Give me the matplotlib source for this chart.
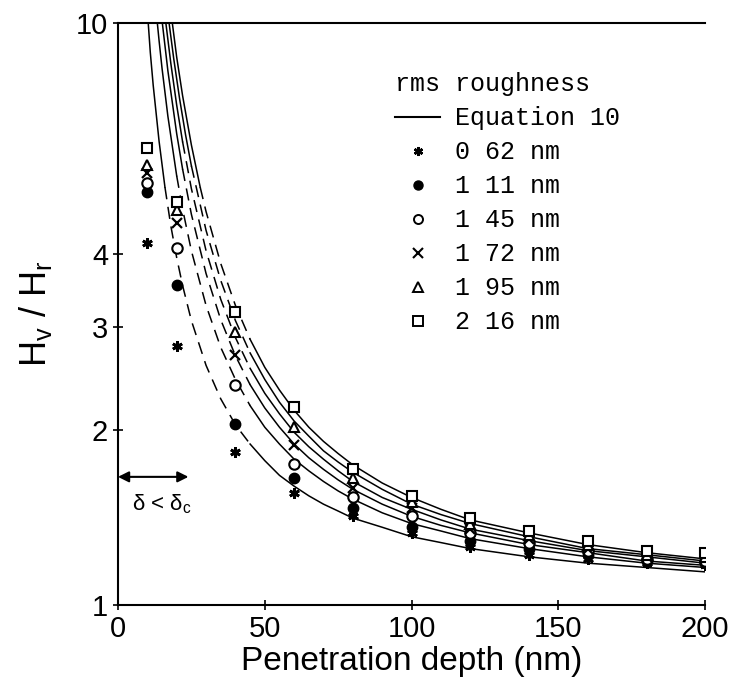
import matplotlib
matplotlib.use('Agg')
import matplotlib.pyplot as plt
from matplotlib.lines import Line2D
from matplotlib.ticker import NullLocator

# measured points (depth in nm, Hv/Hr)
depth = [10, 20, 40, 60, 80, 100, 120, 140, 160, 180, 200]
r062 = [4.19, 2.78, 1.83, 1.56, 1.42, 1.33, 1.26, 1.22, 1.20, 1.18, 1.17]
r111 = [5.12, 3.55, 2.05, 1.65, 1.47, 1.36, 1.29, 1.25, 1.22, 1.19, 1.18]
r145 = [5.31, 4.11, 2.39, 1.75, 1.53, 1.42, 1.33, 1.28, 1.24, 1.20, 1.19]
r172 = [5.52, 4.53, 2.69, 1.88, 1.59, 1.47, 1.35, 1.30, 1.25, 1.21, 1.20]
r195 = [5.70, 4.77, 2.94, 2.02, 1.65, 1.50, 1.38, 1.32, 1.27, 1.22, 1.21]
r216 = [6.10, 4.93, 3.19, 2.19, 1.71, 1.54, 1.41, 1.34, 1.29, 1.24, 1.23]

# Equation 10 curves
eq0_x = [10.3, 11, 12, 14, 16, 18, 20, 22, 25, 30, 35, 40, 45, 50, 55, 60, 65, 70, 75, 80,
         90, 100, 110, 120, 140, 160, 180, 200]
eq0_y = [10, 8.91, 7.81, 6.26, 5.22, 4.48, 3.95, 3.54, 3.08, 2.58, 2.26, 2.04, 1.89, 1.77,
         1.67, 1.60, 1.54, 1.49, 1.45, 1.41, 1.36, 1.31, 1.28, 1.25, 1.21, 1.18, 1.16, 1.14]
eq1_x = [13.4, 14, 15, 17, 20, 22, 25, 30, 35, 40, 45, 50, 55, 60, 65, 70, 75, 80,
         90, 100, 110, 120, 140, 160, 180, 200]
eq1_y = [10, 9.32, 8.36, 6.91, 5.46, 4.79, 4.06, 3.27, 2.77, 2.44, 2.20, 2.02, 1.89, 1.78,
         1.70, 1.63, 1.57, 1.52, 1.44, 1.38, 1.34, 1.30, 1.25, 1.21, 1.18, 1.16]
eq2_x = [15.1, 17, 20, 22, 25, 30, 35, 40, 45, 50, 55, 60, 65, 70, 75, 80,
         90, 100, 110, 120, 140, 160, 180, 200]
eq2_y = [10, 8.27, 6.45, 5.61, 4.69, 3.71, 3.09, 2.68, 2.39, 2.18, 2.02, 1.89, 1.79, 1.71,
         1.64, 1.58, 1.49, 1.42, 1.37, 1.33, 1.27, 1.23, 1.19, 1.17]
eq3_x = [16.3, 18, 20, 22, 25, 30, 35, 40, 45, 50, 55, 60, 65, 70, 75, 80,
         90, 100, 110, 120, 140, 160, 180, 200]
eq3_y = [10, 8.52, 7.22, 6.25, 5.19, 4.06, 3.35, 2.88, 2.55, 2.31, 2.13, 1.98, 1.87, 1.78,
         1.70, 1.63, 1.53, 1.46, 1.40, 1.35, 1.29, 1.24, 1.21, 1.18]
eq4_x = [17.4, 19, 21, 23, 25, 30, 35, 40, 45, 50, 55, 60, 65, 70, 75, 80,
         90, 100, 110, 120, 140, 160, 180, 200]
eq4_y = [10, 8.67, 7.40, 6.43, 5.68, 4.40, 3.61, 3.08, 2.71, 2.44, 2.23, 2.07, 1.95, 1.84,
         1.76, 1.69, 1.58, 1.49, 1.43, 1.38, 1.31, 1.25, 1.22, 1.19]
eq5_x = [18.5, 20, 22, 25, 28, 30, 35, 40, 45, 50, 55, 60, 65, 70, 75, 80,
         90, 100, 110, 120, 140, 160, 180, 200]
eq5_y = [10, 8.73, 7.50, 6.17, 5.22, 4.74, 3.86, 3.27, 2.86, 2.56, 2.34, 2.16, 2.02, 1.91,
         1.82, 1.74, 1.62, 1.53, 1.46, 1.40, 1.33, 1.27, 1.23, 1.20]

labels = ['0 62 nm', '1 11 nm', '1 45 nm', '1 72 nm', '1 95 nm', '2 16 nm']


def draw_curve(ax, xs, ys):
    # solid at the top, dashed in the middle, solid again past ~45 nm
    i1 = max(i for i in range(len(ys)) if ys[i] >= 5.2)
    i2 = min(i for i in range(len(xs)) if xs[i] >= 45)
    ax.plot(xs[:i1 + 1], ys[:i1 + 1], color='k', lw=1.1)
    ax.plot(xs[i1:i2 + 1], ys[i1:i2 + 1], color='k', lw=1.1, ls=(0, (8, 5)))
    ax.plot(xs[i2:], ys[i2:], color='k', lw=1.1)


def main():
    plt.rcParams['font.family'] = ['Liberation Sans', 'DejaVu Sans']
    fig = plt.figure(figsize=(7.35, 6.89), dpi=100)
    ax = fig.add_axes([0.1605, 0.1219, 0.799, 0.845])

    for xs, ys in [(eq0_x, eq0_y), (eq1_x, eq1_y), (eq2_x, eq2_y),
                   (eq3_x, eq3_y), (eq4_x, eq4_y), (eq5_x, eq5_y)]:
        draw_curve(ax, xs, ys)

    ms = 7.5
    ax.plot(depth, r062, ls='none', marker=(6, 2, 0), color='k', ms=ms, mew=2.0)
    ax.plot(depth, r111, ls='none', marker='o', color='k', ms=ms)
    ax.plot(depth, r145, ls='none', marker='o', mfc='white', mec='k', ms=ms, mew=1.5)
    ax.plot(depth, r172, ls='none', marker='x', color='k', ms=ms, mew=1.6)
    ax.plot(depth, r195, ls='none', marker='^', mfc='white', mec='k', ms=ms, mew=1.5)
    ax.plot(depth, r216, ls='none', marker='s', mfc='white', mec='k', ms=ms, mew=1.5)

    ax.set_yscale('log')
    ax.set_xlim(0, 200)
    ax.set_ylim(1, 10)
    ax.set_yticks([1, 2, 3, 4, 10])
    ax.set_yticklabels(['1', '2', '3', '4', '10'])
    ax.yaxis.set_minor_locator(NullLocator())
    ax.set_xticks([0, 50, 100, 150, 200])
    ax.tick_params(axis='both', labelsize=21, width=1.2, length=7, direction='inout')
    ax.spines['right'].set_visible(False)
    for s in ['left', 'bottom', 'top']:
        ax.spines[s].set_linewidth(1.5)

    ax.set_xlabel('Penetration depth (nm)', fontsize=24, labelpad=2)
    ax.set_ylabel(r'H$_\mathregular{v}$ / H$_\mathregular{r}$', fontsize=26, labelpad=16)

    # delta < delta_c marker
    ax.annotate('', xy=(0, 1.66), xytext=(24, 1.66),
                arrowprops=dict(arrowstyle='<|-|>', color='k', lw=1.5,
                                mutation_scale=16, shrinkA=0, shrinkB=0))
    ax.text(15, 1.49, r'δ < δ$_\mathregular{c}$', fontsize=16, ha='center', va='center')

    handles = [Line2D([], [], color='k', lw=1.5)]
    handles.append(Line2D([], [], ls='none', marker=(6, 2, 0), color='k', ms=6.5, mew=1.8))
    handles.append(Line2D([], [], ls='none', marker='o', color='k', ms=6.5))
    handles.append(Line2D([], [], ls='none', marker='o', mfc='white', mec='k', ms=6.5, mew=1.4))
    handles.append(Line2D([], [], ls='none', marker='x', color='k', ms=6.5, mew=1.5))
    handles.append(Line2D([], [], ls='none', marker='^', mfc='white', mec='k', ms=6.5, mew=1.4))
    handles.append(Line2D([], [], ls='none', marker='s', mfc='white', mec='k', ms=6.5, mew=1.4))
    ax.legend(handles, ['Equation 10'] + labels, title='rms roughness',
              loc='upper left', bbox_to_anchor=(0.472, 0.915), frameon=False,
              borderpad=0, borderaxespad=0, handlelength=1.8, handletextpad=0.6,
              labelspacing=0.40, alignment='left',
              prop={'family': 'Liberation Mono', 'size': 18},
              title_fontproperties={'family': 'Liberation Mono', 'size': 18})

    fig.savefig('out.png', dpi=100)
    plt.close(fig)


if __name__ == '__main__':
    main()
